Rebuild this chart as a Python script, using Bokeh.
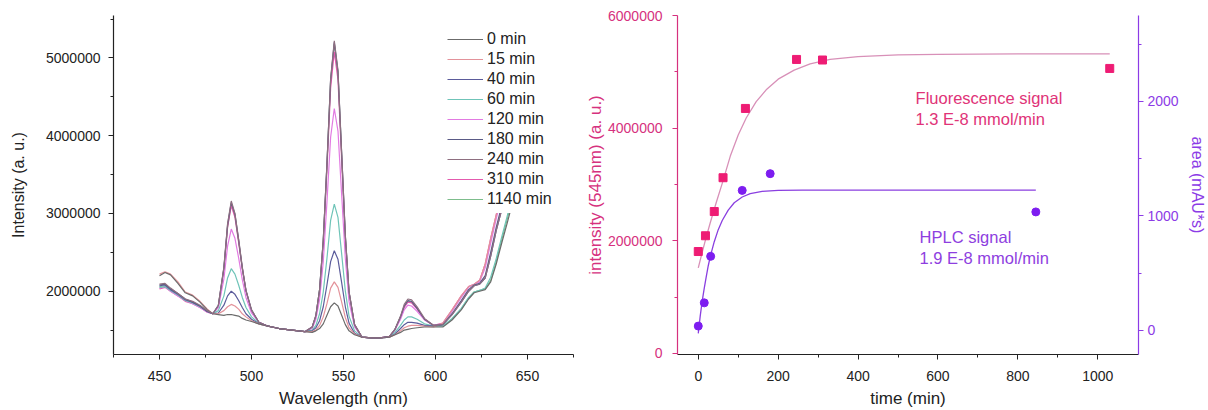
import numpy as np
from bokeh.plotting import figure
from bokeh.layouts import row
from bokeh.models import (Range1d, LinearAxis, FixedTicker, NumeralTickFormatter,
                          Legend, LegendItem, Label)
from bokeh.embed import file_html
from bokeh.resources import INLINE

FONT = "Liberation Sans"

# ---------------- data: emission spectra (intensity in millions, a.u.) ----------------
wavelength = [450, 453, 456, 460, 464, 468, 472, 476, 479,
              482, 485, 487, 489, 491, 493, 495, 497, 500, 504, 509,
              515, 522, 529,
              533, 535, 537, 539, 541, 543, 545, 547, 549, 551, 553,
              556, 560, 565, 570,
              575, 578, 581, 583, 585, 587, 590, 594, 599,
              604, 609, 614, 618, 621, 624, 627, 630, 633, 636, 639, 642]

spec_0 = [2.20, 2.24, 2.21, 2.10, 1.98, 1.94, 1.86, 1.76, 1.71,
          1.70, 1.69, 1.70, 1.70, 1.69, 1.68, 1.65, 1.63, 1.61, 1.58, 1.55,
          1.52, 1.50, 1.48,
          1.47, 1.49, 1.52, 1.58, 1.69, 1.80, 1.85, 1.81, 1.69, 1.57, 1.49,
          1.44, 1.41, 1.40, 1.40,
          1.41, 1.44, 1.47, 1.50, 1.51, 1.52, 1.53, 1.54, 1.54,
          1.54, 1.63, 1.76, 1.90, 1.98, 2.00, 2.02, 2.12, 2.35, 2.62, 2.88, 3.15]
spec_15 = [2.22, 2.25, 2.22, 2.12, 1.99, 1.95, 1.87, 1.77, 1.71,
           1.71, 1.75, 1.80, 1.83, 1.81, 1.77, 1.71, 1.67, 1.62, 1.58, 1.55,
           1.52, 1.50, 1.48,
           1.48, 1.50, 1.56, 1.67, 1.84, 2.04, 2.12, 2.05, 1.86, 1.66, 1.53,
           1.45, 1.41, 1.40, 1.40,
           1.41, 1.44, 1.49, 1.53, 1.55, 1.56, 1.56, 1.55, 1.54,
           1.59, 1.76, 1.94, 2.06, 2.09, 2.14, 2.35, 2.68, 2.98, 3.28, 3.60, 3.90]
spec_40 = [2.07, 2.08, 2.02, 1.96, 1.89, 1.86, 1.81, 1.74, 1.71,
           1.72, 1.82, 1.94, 2.00, 1.96, 1.88, 1.79, 1.71, 1.64, 1.58, 1.55,
           1.52, 1.50, 1.48,
           1.49, 1.53, 1.62, 1.80, 2.08, 2.38, 2.52, 2.41, 2.11, 1.80, 1.59,
           1.46, 1.41, 1.40, 1.40,
           1.41, 1.45, 1.52, 1.57, 1.60, 1.60, 1.59, 1.56, 1.55,
           1.57, 1.70, 1.86, 2.00, 2.07, 2.09, 2.17, 2.45, 2.78, 3.05, 3.35, 3.70]
spec_60 = [2.05, 2.06, 2.01, 1.95, 1.88, 1.85, 1.80, 1.74, 1.71,
           1.75, 1.94, 2.17, 2.29, 2.22, 2.08, 1.92, 1.79, 1.67, 1.59, 1.55,
           1.52, 1.50, 1.48,
           1.50, 1.56, 1.71, 1.99, 2.42, 2.91, 3.12, 2.95, 2.48, 2.00, 1.68,
           1.49, 1.41, 1.40, 1.40,
           1.41, 1.47, 1.56, 1.63, 1.67, 1.67, 1.64, 1.58, 1.55,
           1.55, 1.65, 1.78, 1.92, 1.99, 2.01, 2.04, 2.18, 2.42, 2.70, 2.97, 3.25]
spec_120 = [2.04, 2.06, 2.00, 1.94, 1.88, 1.84, 1.79, 1.73, 1.71,
            1.79, 2.16, 2.58, 2.80, 2.68, 2.43, 2.15, 1.92, 1.72, 1.60, 1.55,
            1.52, 1.50, 1.48,
            1.52, 1.64, 1.89, 2.38, 3.14, 3.98, 4.35, 4.06, 3.24, 2.42, 1.87,
            1.54, 1.41, 1.40, 1.40,
            1.42, 1.50, 1.64, 1.76, 1.82, 1.81, 1.74, 1.63, 1.56,
            1.58, 1.74, 1.92, 2.05, 2.09, 2.12, 2.30, 2.62, 2.93, 3.22, 3.52, 3.85]
spec_180 = [2.08, 2.09, 2.03, 1.97, 1.90, 1.86, 1.81, 1.74, 1.71,
            1.82, 2.30, 2.85, 3.14, 2.99, 2.66, 2.30, 2.01, 1.76, 1.60, 1.55,
            1.52, 1.50, 1.48,
            1.54, 1.69, 2.02, 2.65, 3.63, 4.72, 5.20, 4.82, 3.77, 2.71, 1.99,
            1.57, 1.41, 1.40, 1.40,
            1.42, 1.51, 1.67, 1.81, 1.88, 1.87, 1.78, 1.64, 1.56,
            1.57, 1.71, 1.88, 2.02, 2.08, 2.10, 2.20, 2.50, 2.82, 3.10, 3.40, 3.75]
spec_240 = [2.09, 2.10, 2.04, 1.97, 1.90, 1.87, 1.82, 1.75, 1.71,
            1.82, 2.31, 2.87, 3.16, 3.00, 2.67, 2.31, 2.01, 1.76, 1.60, 1.55,
            1.52, 1.50, 1.48,
            1.54, 1.69, 2.02, 2.66, 3.64, 4.73, 5.22, 4.84, 3.78, 2.72, 2.00,
            1.57, 1.41, 1.40, 1.40,
            1.42, 1.51, 1.68, 1.83, 1.90, 1.89, 1.80, 1.65, 1.56,
            1.57, 1.70, 1.86, 2.00, 2.07, 2.09, 2.17, 2.45, 2.78, 3.05, 3.35, 3.70]
spec_310 = [2.03, 2.05, 2.00, 1.94, 1.87, 1.84, 1.79, 1.73, 1.71,
            1.81, 2.28, 2.82, 3.10, 2.95, 2.63, 2.29, 2.00, 1.75, 1.60, 1.55,
            1.52, 1.50, 1.48,
            1.54, 1.68, 2.00, 2.62, 3.56, 4.61, 5.08, 4.72, 3.69, 2.67, 1.98,
            1.57, 1.41, 1.40, 1.40,
            1.42, 1.51, 1.66, 1.79, 1.86, 1.85, 1.77, 1.64, 1.56,
            1.59, 1.76, 1.94, 2.06, 2.09, 2.14, 2.35, 2.68, 2.98, 3.28, 3.60, 3.90]
spec_1140 = [2.06, 2.07, 2.02, 1.95, 1.89, 1.85, 1.80, 1.74, 1.71,
             1.81, 2.29, 2.83, 3.12, 2.97, 2.64, 2.29, 2.00, 1.75, 1.60, 1.55,
             1.52, 1.50, 1.48,
             1.54, 1.68, 2.02, 2.65, 3.62, 4.70, 5.18, 4.81, 3.75, 2.70, 1.99,
             1.57, 1.41, 1.40, 1.40,
             1.42, 1.51, 1.67, 1.80, 1.87, 1.86, 1.78, 1.64, 1.56,
             1.55, 1.64, 1.77, 1.91, 1.99, 2.01, 2.03, 2.14, 2.38, 2.66, 2.93, 3.20]

series_labels = ["0 min", "15 min", "40 min", "60 min", "120 min",
                 "180 min", "240 min", "310 min", "1140 min"]
series_values = [spec_0, spec_15, spec_40, spec_60, spec_120,
                 spec_180, spec_240, spec_310, spec_1140]
series_colors = ["#6b6b6b", "#e3929a", "#5b5b9b", "#6fc4b8", "#e27ae2",
                 "#5a5a86", "#8e6f80", "#e45aae", "#7dbd8c"]
draw_order = [8, 7, 4, 3, 2, 1, 0, 5, 6]
MILLION = 1e6

# ---------------- data: kinetics ----------------
fluor_time = [0, 18, 40, 62, 118, 246, 311, 1030]
fluor_intensity = [1.81e6, 2.09e6, 2.52e6, 3.12e6, 4.35e6, 5.22e6, 5.21e6, 5.06e6]
fluor_fit_time = [0, 10, 20, 30, 45, 60, 80, 100, 120, 145, 170, 200, 240, 280,
                  330, 400, 500, 600, 800, 1030]
fluor_fit_intensity = [1.52e6, 1.80e6, 2.07e6, 2.32e6, 2.68e6, 3.02e6, 3.50e6, 3.88e6,
                       4.18e6, 4.47e6, 4.68e6, 4.87e6, 5.03e6, 5.14e6, 5.22e6, 5.27e6,
                       5.30e6, 5.31e6, 5.32e6, 5.32e6]

hplc_time = [0, 15, 31, 110, 180, 845]
hplc_area = [38, 241, 647, 1223, 1369, 1035]
hplc_fit_time = [0, 5, 10, 15, 20, 25, 30, 40, 50, 60, 75, 90, 110, 130, 160, 200,
                 260, 400, 845]
hplc_fit_area = [-25, 130, 260, 370, 470, 565, 645, 775, 880, 960, 1050, 1115, 1165,
                 1195, 1215, 1223, 1226, 1226, 1226]

PINK_AX = "#d6317e"
PINK_PT = "#ee1c74"
PINK_FIT = "#d890b8"
PINK_TXT = "#e03378"
PURP_AX = "#8c3be6"
PURP_PT = "#7d1df0"
PURP_FIT = "#8a3fe0"
PURP_TXT = "#8e3ee0"
DARK = "#222222"


def style_axis(ax, color, label_size="17px"):
    ax.axis_line_color = color
    ax.axis_line_width = 1.2
    ax.major_tick_line_color = color
    ax.minor_tick_line_color = color
    ax.major_tick_in = 0
    ax.major_tick_out = 5
    ax.minor_tick_in = 0
    ax.minor_tick_out = 3
    ax.major_label_text_font = FONT
    ax.major_label_text_font_size = "14px"
    ax.major_label_text_color = color
    ax.axis_label_text_font = FONT
    ax.axis_label_text_font_size = label_size
    ax.axis_label_text_font_style = "normal"
    ax.axis_label_text_color = color


# ---------------- left panel ----------------
p1 = figure(width=580, height=410, x_range=Range1d(425, 675),
            y_range=Range1d(1.186e6, 5.546e6),
            output_backend="svg", toolbar_location=None,
            min_border_left=113, min_border_right=7,
            min_border_top=15, min_border_bottom=54)
p1.outline_line_color = None
p1.grid.visible = False
p1.background_fill_color = "white"

renderers = {}
for i in draw_order:
    renderers[i] = p1.line(wavelength, np.array(series_values[i]) * MILLION,
                           line_color=series_colors[i], line_width=1.2)
items = [LegendItem(label=series_labels[i], renderers=[renderers[i]])
         for i in range(len(series_labels))]

xa = p1.xaxis[0]
style_axis(xa, DARK)
xa.axis_label = "Wavelength (nm)"
xa.ticker = FixedTicker(ticks=[450, 500, 550, 600, 650],
                        minor_ticks=[425, 475, 525, 575, 625, 675])
xa.major_label_standoff = 11
xa.axis_label_standoff = 5

ya = p1.yaxis[0]
style_axis(ya, DARK, "16px")
ya.axis_label = "Intensity (a. u.)"
ya.ticker = FixedTicker(ticks=[2e6, 3e6, 4e6, 5e6],
                        minor_ticks=[1.5e6, 2.5e6, 3.5e6, 4.5e6, 5.5e6])
ya.formatter = NumeralTickFormatter(format="0")
ya.major_label_standoff = 8
ya.axis_label_standoff = 16

legend = Legend(items=items, location=(330, 141), padding=4, margin=0, spacing=0,
                glyph_width=36, glyph_height=20, label_height=20, label_standoff=4,
                label_text_font=FONT, label_text_font_size="16px",
                label_text_color=DARK, background_fill_color="white",
                background_fill_alpha=1.0, border_line_alpha=0)
p1.add_layout(legend)

# ---------------- right panel ----------------
p2 = figure(width=628, height=410, x_range=Range1d(-52, 1102),
            y_range=Range1d(-18000, 6.0e6),
            output_backend="svg", toolbar_location=None,
            min_border_left=97, min_border_right=67,
            min_border_top=15, min_border_bottom=55)
p2.outline_line_color = None
p2.grid.visible = False
p2.extra_y_ranges = {"area": Range1d(-210, 2750)}

p2.line(fluor_fit_time, fluor_fit_intensity, line_color=PINK_FIT, line_width=1.3)
p2.scatter(fluor_time, fluor_intensity, marker="square", size=8,
           fill_color=PINK_PT, line_color=PINK_PT)
p2.line(hplc_fit_time, hplc_fit_area, line_color=PURP_FIT, line_width=1.3,
        y_range_name="area")
p2.scatter(hplc_time, hplc_area, marker="circle", size=8,
           fill_color=PURP_PT, line_color=PURP_PT, y_range_name="area")

bx = p2.xaxis[0]
style_axis(bx, DARK)
bx.axis_label = "time (min)"
bx.ticker = FixedTicker(ticks=[0, 200, 400, 600, 800, 1000],
                        minor_ticks=[100, 300, 500, 700, 900])
bx.major_label_standoff = 11
bx.axis_label_standoff = 5

ly = p2.yaxis[0]
style_axis(ly, PINK_AX)
ly.axis_label = "intensity (545nm) (a. u.)"
ly.ticker = FixedTicker(ticks=[0, 2e6, 4e6, 6e6], minor_ticks=[1e6, 3e6, 5e6])
ly.formatter = NumeralTickFormatter(format="0")
ly.major_label_standoff = 10
ly.axis_label_standoff = 0

ry = LinearAxis(y_range_name="area", axis_label="area (mAU*s)")
style_axis(ry, PURP_AX, "16px")
ry.ticker = FixedTicker(ticks=[0, 1000, 2000], minor_ticks=[500, 1500, 2500])
ry.major_label_standoff = 4
ry.axis_label_standoff = 7
p2.add_layout(ry, "right")

for txt, x, y, col in [("Fluorescence signal", 544, 4.53e6, PINK_TXT),
                       ("1.3 E-8 mmol/min", 544, 4.17e6, PINK_TXT),
                       ("HPLC signal", 554, 2.06e6, PURP_TXT),
                       ("1.9 E-8 mmol/min", 554, 1.69e6, PURP_TXT)]:
    p2.add_layout(Label(x=x, y=y, text=txt, text_color=col, text_font=FONT,
                        text_font_size="16.5px", text_baseline="middle",
                        text_align="left"))

layout = row(p1, p2)
open("out.html", "w").write(file_html(layout, INLINE))
